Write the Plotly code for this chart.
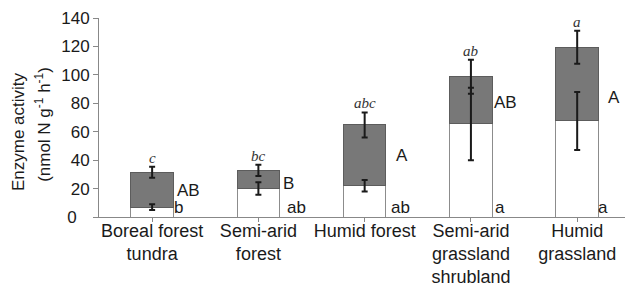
import plotly.graph_objects as go

categories = ["Boreal forest<br>tundra", "Semi-arid<br>forest", "Humid forest",
              "Semi-arid<br>grassland<br>shrubland", "Humid<br>grassland"]
lower_values = [7.0, 20.0, 22.0, 65.5, 67.6]
lower_errors = [2.0, 4.4, 4.0, 25.5, 20.4]
upper_values = [24.5, 12.8, 42.8, 33.2, 51.9]
upper_errors = [3.8, 3.9, 8.8, 12.0, 11.6]
total_letters = ["c", "bc", "abc", "ab", "a"]
upper_letters = ["AB", "B", "A", "AB", "A"]
lower_letters = ["b", "ab", "ab", "a", "a"]
y_tickvals = [0, 20, 40, 60, 80, 100, 120, 140]
y_ticktext = ["0\u2007\u2009", "20", "40", "60", "80", "100", "120", "140"]

FONT = "Liberation Sans, Arial, Helvetica, sans-serif"
x = list(range(len(categories)))
bar_w = 0.4
totals = [lo + up for lo, up in zip(lower_values, upper_values)]

fig = go.Figure()
fig.add_trace(go.Bar(
    x=x, y=lower_values, width=bar_w,
    marker=dict(color="white", line=dict(color="#8c8c8c", width=1)),
    showlegend=False,
))
fig.add_trace(go.Bar(
    x=x, y=upper_values, width=bar_w,
    marker=dict(color="#787878", line=dict(color="#5c5c5c", width=1)),
    showlegend=False,
))
fig.add_trace(go.Scatter(
    x=x, y=lower_values, mode="markers", marker=dict(size=1, opacity=0),
    error_y=dict(type="data", array=lower_errors, color="#1a1a1a", thickness=2, width=3),
    showlegend=False, hoverinfo="skip",
))
fig.add_trace(go.Scatter(
    x=x, y=totals, mode="markers", marker=dict(size=1, opacity=0),
    error_y=dict(type="data", array=upper_errors, color="#1a1a1a", thickness=2, width=3),
    showlegend=False, hoverinfo="skip",
))

annotations = []
for i in x:
    top = totals[i] + upper_errors[i]
    annotations.append(dict(x=i, y=top, text=total_letters[i], showarrow=False,
                            xanchor="center", yanchor="bottom", yshift=-1,
                            font=dict(family="Liberation Serif, Times New Roman, serif",
                                      size=15, color="#333333", style="italic")))
upper_xshift = [2, 1, 8, 0, 8]
upper_yshift = [-1, -4, 0, -2, -13]
lower_xshift = [-1, 5, 3, 1, -2]
for i in x:
    mid = lower_values[i] + upper_values[i] / 2
    annotations.append(dict(x=i + bar_w / 2, y=mid, text=upper_letters[i], showarrow=False,
                            xanchor="left", yanchor="middle", xshift=upper_xshift[i],
                            yshift=upper_yshift[i],
                            font=dict(family=FONT, size=17, color="#1a1a1a")))
    annotations.append(dict(x=i + bar_w / 2, y=0, text=lower_letters[i], showarrow=False,
                            xanchor="left", yanchor="bottom", xshift=lower_xshift[i],
                            yshift=-2,
                            font=dict(family=FONT, size=17, color="#1a1a1a")))

annotations.append(dict(xref="paper", yref="paper", x=0, y=0.427, xshift=-81,
                        text="Enzyme activity", textangle=-90, showarrow=False,
                        xanchor="center", yanchor="middle",
                        font=dict(family=FONT, size=17, color="#1a1a1a")))
annotations.append(dict(xref="paper", yref="paper", x=0, y=0.463, xshift=-56,
                        text="(nmol N g<sup>-1</sup> h<sup>-1</sup>)", textangle=-90,
                        showarrow=False, xanchor="center", yanchor="middle",
                        font=dict(family=FONT, size=17, color="#1a1a1a")))

fig.update_layout(
    barmode="stack",
    width=625, height=287,
    margin=dict(l=99, r=0, t=18, b=70, pad=0, autoexpand=False),
    plot_bgcolor="white", paper_bgcolor="white",
    font=dict(family=FONT, size=17, color="#1a1a1a"),
    annotations=annotations,
)
fig.update_xaxes(
    range=[-0.5, 4.45], tickmode="array", tickvals=x, ticktext=categories,
    tickson="boundaries", ticks="outside", ticklen=4, tickcolor="#888888",
    showline=True, linecolor="#888888", linewidth=1, showgrid=False, zeroline=False,
    tickfont=dict(family=FONT, size=18, color="#1a1a1a"), tickangle=0,
    automargin=False, ticklabelstandoff=-7,
)
fig.update_yaxes(
    range=[0, 140], tickmode="array", tickvals=y_tickvals, ticktext=y_ticktext,
    ticks="outside", ticklen=5, tickcolor="#888888",
    showline=True, linecolor="#888888", linewidth=1, showgrid=False, zeroline=False,
    tickfont=dict(family=FONT, size=17, color="#1a1a1a"), ticklabelstandoff=0,
    automargin=False,
)
fig.write_html("out.html", config={"displayModeBar": False},
               post_script="document.body.style.margin='0';document.body.style.overflow='hidden';")
